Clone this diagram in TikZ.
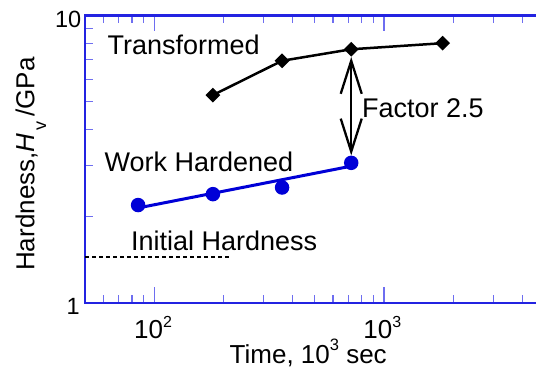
\documentclass[tikz,border=0pt]{standalone}
\usepackage{fontspec}
\setmainfont{Liberation Sans}
\usetikzlibrary{arrows.meta,shapes.geometric}
\definecolor{framecol}{RGB}{35,35,225}
\definecolor{tickcol}{RGB}{110,110,240}
\definecolor{datablue}{RGB}{0,0,215}
\newcommand\mysupA[1]{\raisebox{10.8pt}{\fontsize{16}{16}\selectfont #1}}
\newcommand\mysupB[1]{\raisebox{13pt}{\fontsize{16.5}{16.5}\selectfont #1}}
\newcommand\mysubv[1]{\raisebox{-11.7pt}{\fontsize{18}{18}\selectfont #1}}
\tikzset{
  frameline/.style={draw=framecol, line width=2.5pt},
  tickline/.style={draw=tickcol, line width=1.1pt},
  dmd/.style={diamond, fill=black, inner sep=0pt, minimum width=15pt, minimum height=15pt},
  dot/.style={circle, fill=datablue, inner sep=0pt, minimum size=14.5pt},
  blackline/.style={draw=black, line width=2.5pt},
  blueline/.style={draw=datablue, line width=3pt},
  initline/.style={draw=black, line width=2pt, dash pattern=on 4pt off 3pt},
  factorarrow/.style={draw=black, line width=2.3pt, {Straight Barb[length=33pt,width=21pt]}-{Straight Barb[length=33pt,width=21pt]}},
  lbl/.style={inner sep=0pt, font=\fontsize{27}{30}\selectfont},
  xlbl/.style={inner sep=0pt, font=\fontsize{26}{29}\selectfont},
  ticklbl/.style={inner sep=0pt, font=\fontsize{23.5}{26}\selectfont},
}
\begin{document}
\begin{tikzpicture}[x=1pt,y=1pt]
\useasboundingbox (0,0) rectangle (536,372);
\clip (0,0) rectangle (536,372);
\begin{scope}[shift={(154.3pt,69pt)}, x=229.7pt, y=287.7pt]
  % ticks
  \foreach \tv in {60,70,80,90,200,300,400,500,600,700,800,900,2000,3000,4000} {
    \draw[tickline] ({log10(\tv)-2},0) -- ++(0pt,8pt);
    \draw[tickline] ({log10(\tv)-2},1) -- ++(0pt,-8pt);
  }
  \foreach \uv in {0,1} {
    \draw[tickline] (\uv,0) -- ++(0pt,16pt);
    \draw[tickline] (\uv,1) -- ++(0pt,-16pt);
  }
  \foreach \hv in {2,3,4,5,6,7,8,9} {
    \draw[tickline] (-0.30103,{log10(\hv)}) -- ++(8pt,0pt);
  }
  % frame
  \draw[frameline] (-0.30103,0) rectangle (1.69897,1);
  % initial hardness
  \coordinate (ih1) at (-0.30103,{log10(1.45)});
  \coordinate (ih2) at ({log10(212)-2},{log10(1.45)});
  \draw[initline] (ih1) -- (ih2);
  % work hardened
  \coordinate (fit1) at ({log10(85)-2},{log10(2.14)});
  \coordinate (fit2) at ({log10(720)-2},{log10(2.99)});
  \draw[blueline] (fit1) -- (fit2);
  \node[dot] (c1) at ({log10(85)-2},{log10(2.19)}) {};
  \node[dot] (c2) at ({log10(180)-2},{log10(2.39)}) {};
  \node[dot] (c3) at ({log10(360)-2},{log10(2.52)}) {};
  \node[dot] (c4) at ({log10(720)-2},{log10(3.07)}) {};
  % transformed
  \node[dmd] (d1) at ({log10(180)-2},{log10(5.28)}) {};
  \node[dmd] (d2) at ({log10(360)-2},{log10(6.95)}) {};
  \node[dmd] (d3) at ({log10(720)-2},{log10(7.62)}) {};
  \node[dmd] (d4) at ({log10(1800)-2},{log10(8.0)}) {};
  \draw[blackline] (d1.center) -- (d2.center) -- (d3.center) -- (d4.center);
  % factor arrow
  \draw[factorarrow] (d3.south) -- (c4.north);
\end{scope}
% labels
\node[lbl, anchor=base west] (ttr) at (107.5,317.7) {Transformed};
\node[lbl, anchor=base west] (twh) at (104.5,200.3) {Work Hardened};
\node[lbl, anchor=base west] (tih) at (131,121.3) {Initial Hardness};
\node[lbl, anchor=base west] (tfa) at (362,254.7) {Factor 2.5};
% tick labels
\node[ticklbl, anchor=base east] (y10) at (81.5,344.3) {10};
\node[ticklbl, anchor=base east] (y1) at (80,57) {1};
\node[xlbl, anchor=base west] (x2) at (134,33.7) {10\mysupA{2}};
\node[xlbl, anchor=base west] (x3) at (363.2,33.7) {10\mysupA{3}};
% axis titles
\node[xlbl, anchor=base west] (xt) at (229.5,8.7) {Time, 10\mysupB{3} sec};
\node[xlbl, anchor=base west, rotate=90] (yt) at (34.5,101) {Hardness,\textit{H}\hspace{3pt}\mysubv{v}\hspace{5pt}/GPa};
\end{tikzpicture}
\end{document}
